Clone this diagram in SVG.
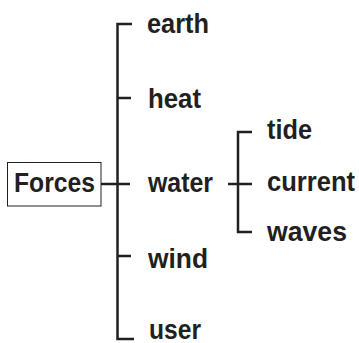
<svg xmlns="http://www.w3.org/2000/svg" width="359" height="343" viewBox="0 0 359 343">
<style>
.t{font-family:"Liberation Sans",Arial,sans-serif;font-weight:bold;font-size:28px;fill:#231f20}
.c{stroke:#231f20;stroke-width:2.5;fill:none}
</style>
<rect width="359" height="343" fill="#fff"/>
<g id="connectors">
<path class="c" d="M132,24 H117.5 V339 H134"/>
<path class="c" d="M117.5,98 H131"/>
<path class="c" d="M101,184 H130"/>
<path class="c" d="M117.5,256 H131"/>
<path class="c" d="M252,132 H238 V232 H252"/>
<path class="c" d="M228,184 H252"/>
</g>
<g id="forces">
<rect x="7.5" y="162.5" width="93.5" height="43.5" fill="#fff" stroke="#231f20" stroke-width="1"/>
<text class="t" x="14" y="192" textLength="81" lengthAdjust="spacingAndGlyphs">Forces</text>
</g>
<g id="earth"><text class="t" x="147" y="33" textLength="62" lengthAdjust="spacingAndGlyphs">earth</text></g>
<g id="heat"><text class="t" x="148" y="108" textLength="53" lengthAdjust="spacingAndGlyphs">heat</text></g>
<g id="water"><text class="t" x="148" y="192" textLength="65" lengthAdjust="spacingAndGlyphs">water</text></g>
<g id="wind"><text class="t" x="148" y="268" textLength="60" lengthAdjust="spacingAndGlyphs">wind</text></g>
<g id="user"><text class="t" x="149" y="339" textLength="52" lengthAdjust="spacingAndGlyphs">user</text></g>
<g id="tide"><text class="t" x="267" y="139" textLength="45" lengthAdjust="spacingAndGlyphs">tide</text></g>
<g id="current"><text class="t" x="267" y="191" textLength="88" lengthAdjust="spacingAndGlyphs">current</text></g>
<g id="waves"><text class="t" x="267" y="241" textLength="80" lengthAdjust="spacingAndGlyphs">waves</text></g>
</svg>
